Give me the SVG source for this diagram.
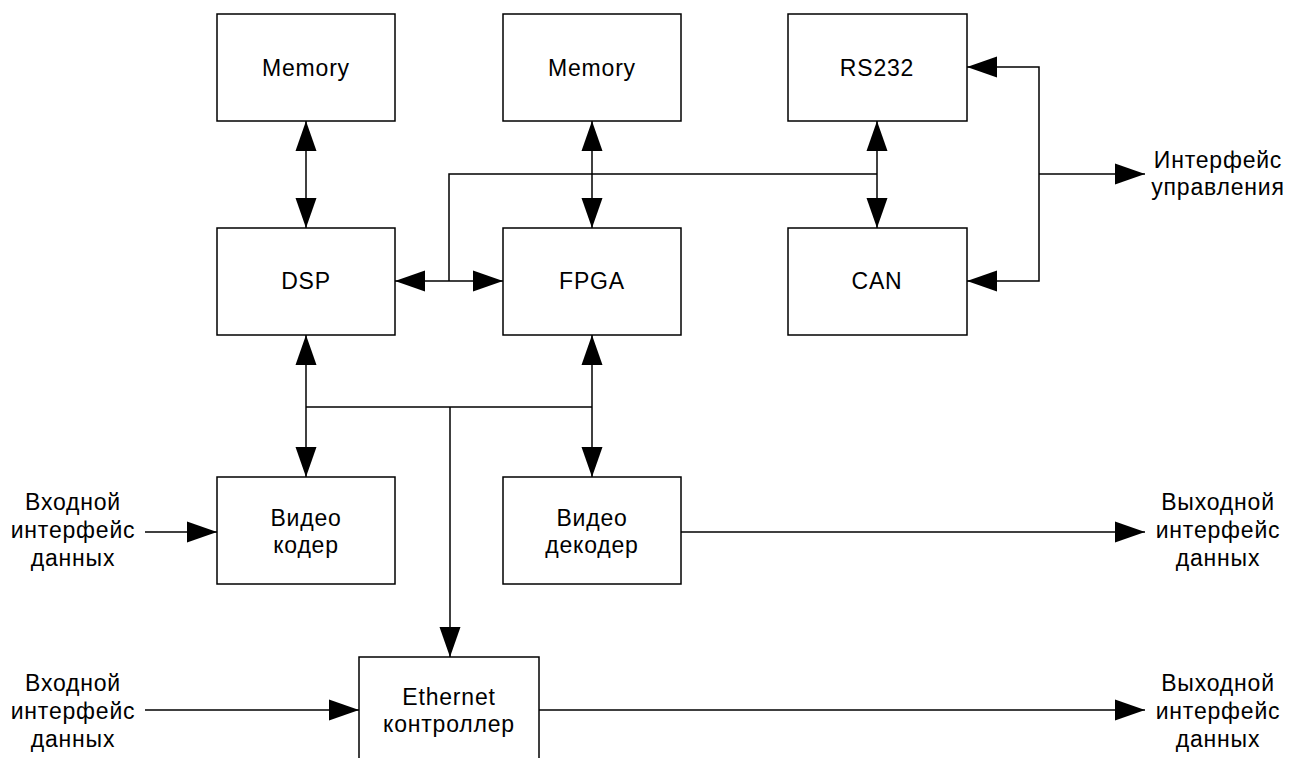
<svg xmlns="http://www.w3.org/2000/svg" width="1299" height="758" viewBox="0 0 1299 758">
<style>
.box{fill:#fff;stroke:#000;stroke-width:1.5}
.t{font-family:"Liberation Sans",Arial,sans-serif;font-size:23px;letter-spacing:0.8px;fill:#000;text-anchor:middle}
.c{fill:none;stroke:#000;stroke-width:1.5}
.a{marker-end:url(#ah)}
.b{marker-start:url(#ah);marker-end:url(#ah)}
</style>
<defs>
<marker id="ah" markerUnits="userSpaceOnUse" markerWidth="30" markerHeight="22" refX="30" refY="11" orient="auto-start-reverse" viewBox="0 0 30 22">
<path d="M0,0.5 L30,11 L0,21.5 Z" fill="#000"/>
</marker>
</defs>
<rect width="1299" height="758" fill="#fff"/>
<g id="connectors">
<line class="c b" x1="306" y1="121" x2="306" y2="228"/>
<line class="c b" x1="592" y1="121" x2="592" y2="228"/>
<line class="c b" x1="877" y1="121" x2="877" y2="228"/>
<line class="c b" x1="395" y1="281" x2="503" y2="281"/>
<path class="c" d="M449,281 V174 H877"/>
<line class="c b" x1="306" y1="335" x2="306" y2="477"/>
<line class="c b" x1="592" y1="335" x2="592" y2="477"/>
<path class="c" d="M306,407 H592"/>
<line class="c a" x1="450" y1="407" x2="450" y2="657"/>
<path class="c b" d="M967,67 H1039 V281 H967"/>
<line class="c a" x1="1039" y1="174" x2="1145" y2="174"/>
<line class="c a" x1="145" y1="532" x2="217" y2="532"/>
<line class="c a" x1="681" y1="532" x2="1145" y2="532"/>
<line class="c a" x1="145" y1="710" x2="359" y2="710"/>
<line class="c a" x1="538" y1="710" x2="1145" y2="710"/>
</g>
<g id="mem1"><rect class="box" x="217" y="14" width="178" height="107"/><text class="t" x="306" y="76">Memory</text></g>
<g id="mem2"><rect class="box" x="503" y="14" width="178" height="107"/><text class="t" x="592" y="76">Memory</text></g>
<g id="rs232"><rect class="box" x="788" y="14" width="179" height="107"/><text class="t" x="877" y="76">RS232</text></g>
<g id="dsp"><rect class="box" x="217" y="228" width="178" height="107"/><text class="t" x="306" y="289">DSP</text></g>
<g id="fpga"><rect class="box" x="503" y="228" width="178" height="107"/><text class="t" x="592" y="289">FPGA</text></g>
<g id="can"><rect class="box" x="788" y="228" width="179" height="107"/><text class="t" x="877" y="289">CAN</text></g>
<g id="vcoder"><rect class="box" x="217" y="477" width="178" height="107"/><text class="t" x="306" y="526">Видео</text><text class="t" x="306" y="553">кодер</text></g>
<g id="vdecoder"><rect class="box" x="503" y="477" width="178" height="107"/><text class="t" x="592" y="526">Видео</text><text class="t" x="592" y="553">декодер</text></g>
<g id="eth"><rect class="box" x="359" y="657" width="180" height="110"/><text class="t" x="449" y="705">Ethernet</text><text class="t" x="449" y="732">контроллер</text></g>
<g id="ctrl"><text class="t" x="1218" y="168">Интерфейс</text><text class="t" x="1218" y="195">управления</text></g>
<g id="in1"><text class="t" x="73" y="510">Входной</text><text class="t" x="73" y="538">интерфейс</text><text class="t" x="73" y="566">данных</text></g>
<g id="out1"><text class="t" x="1218" y="510">Выходной</text><text class="t" x="1218" y="538">интерфейс</text><text class="t" x="1218" y="566">данных</text></g>
<g id="in2"><text class="t" x="73" y="691">Входной</text><text class="t" x="73" y="719">интерфейс</text><text class="t" x="73" y="747">данных</text></g>
<g id="out2"><text class="t" x="1218" y="691">Выходной</text><text class="t" x="1218" y="719">интерфейс</text><text class="t" x="1218" y="747">данных</text></g>
</svg>
